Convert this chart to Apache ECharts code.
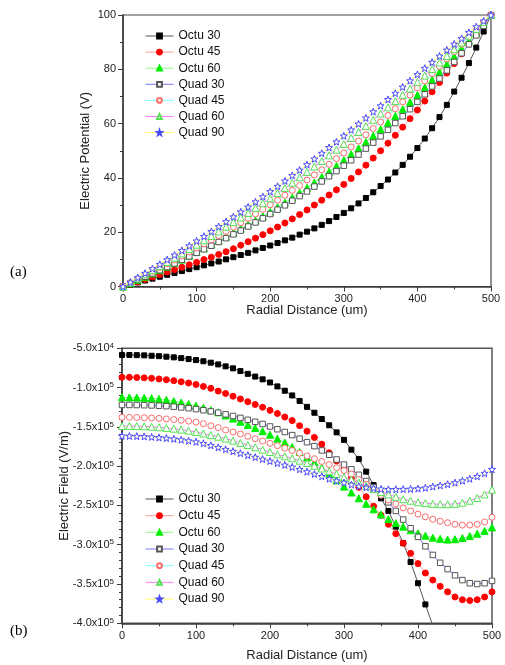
<!DOCTYPE html>
<html><head><meta charset="utf-8">
<script src="https://cdn.jsdelivr.net/npm/echarts@6/dist/echarts.min.js"></script>
<style>html,body{margin:0;padding:0;background:#fff}#c{width:505px;height:665px}</style>
</head><body><div id="c"></div>
<script>
// ---------- data ----------
const seriesNames = ['Octu 30','Octu 45','Octu 60','Quad 30','Quad 45','Quad 60','Quad 90'];
const radial = [0,10,20,30,40,50,60,70,80,90,100,110,120,130,140,150,160,170,180,190,200,210,220,230,240,250,260,270,280,290,300,310,320,330,340,350,360,370,380,390,400,410,420,430,440,450,460,470,480,490,500];
const xTicks = [0,100,200,300,400,500];
const potTicks = [0,20,40,60,80,100];
// Electric potential (V)
const potOctu30 = [0,0.7,1.5,2.2,2.9,3.6,4.3,5.0,5.7,6.4,7.1,7.8,8.5,9.2,10.0,10.8,11.6,12.4,13.3,14.2,15.1,16.0,17.0,18.0,19.1,20.2,21.4,22.7,24.1,25.6,27.1,28.8,30.6,32.6,34.7,37.0,39.4,42.0,44.8,47.8,51.0,54.5,58.3,62.4,66.9,71.8,76.9,82.3,88.0,93.9,100];
const potOctu45 = [0,0.9,1.7,2.6,3.5,4.4,5.3,6.2,7.1,8.0,8.9,9.9,10.8,11.8,12.8,13.9,15.2,16.5,17.8,19.1,20.5,21.9,23.4,24.9,26.5,28.2,30.0,31.8,33.7,35.6,37.6,39.8,42.2,44.7,47.3,50.0,52.8,55.7,58.7,61.8,65.0,68.3,71.7,75.1,78.6,82.1,85.7,89.3,92.8,96.4,100];
const potOctu60 = [0,1.2,2.4,3.6,4.8,6.0,7.3,8.6,9.9,11.3,12.7,14.1,15.5,16.9,18.3,19.8,21.3,22.8,24.3,25.9,27.5,29.2,30.9,32.7,34.5,36.4,38.3,40.3,42.3,44.4,46.5,48.7,50.9,53.2,55.5,57.9,60.3,62.8,65.3,67.9,70.5,73.3,76.1,79.0,81.9,84.8,87.7,90.6,93.5,96.6,100];
const potQuad30 = [0,1.2,2.4,3.6,4.8,6.0,7.2,8.5,9.8,11.1,12.4,13.7,15.0,16.4,17.8,19.2,20.6,22.1,23.6,25.1,26.7,28.3,29.9,31.6,33.3,35.0,36.8,38.7,40.6,42.5,44.5,46.5,48.6,50.8,53.0,55.3,57.7,60.2,62.7,65.3,68.0,70.8,73.7,76.6,79.6,82.7,85.9,89.2,92.5,96.0,100];
const potQuad45 = [0,1.4,2.8,4.2,5.6,7.0,8.4,9.8,11.2,12.7,14.2,15.7,17.2,18.7,20.3,21.9,23.5,25.1,26.7,28.4,30.1,31.8,33.6,35.4,37.2,39.2,41.1,43.0,45.0,47.1,49.2,51.4,53.6,55.9,58.2,60.6,63.0,65.5,68.0,70.5,73.1,75.7,78.4,81.1,83.8,86.5,89.2,92.0,94.7,97.4,100];
const potQuad60 = [0,1.5,3.0,4.5,6.0,7.5,9.0,10.6,12.2,13.8,15.4,17.0,18.6,20.3,22.0,23.7,25.4,27.1,28.9,30.7,32.5,34.4,36.3,38.2,40.2,42.2,44.2,46.2,48.3,50.4,52.5,54.7,56.9,59.1,61.4,63.7,66.0,68.3,70.6,72.9,75.3,77.7,80.1,82.5,84.9,87.4,89.9,92.4,94.9,97.4,100];
const potQuad90 = [0,1.6,3.3,4.9,6.6,8.2,9.9,11.6,13.3,15.0,16.8,18.5,20.3,22.1,23.9,25.7,27.5,29.3,31.2,33.1,35.0,36.9,38.9,40.9,42.9,44.9,47.0,49.1,51.2,53.3,55.5,57.7,59.9,62.1,64.4,66.6,68.9,71.2,73.5,75.8,78.1,80.4,82.6,84.9,87.1,89.3,91.4,93.6,95.7,97.8,100];
// Electric field, in units of 1e5 V/m
const efOctu30 = [-0.585,-0.585,-0.587,-0.59,-0.595,-0.60,-0.607,-0.615,-0.625,-0.637,-0.65,-0.665,-0.683,-0.705,-0.73,-0.755,-0.79,-0.825,-0.86,-0.895,-0.935,-0.985,-1.04,-1.10,-1.17,-1.245,-1.32,-1.40,-1.48,-1.57,-1.665,-1.79,-1.91,-2.07,-2.24,-2.41,-2.57,-2.77,-2.98,-3.22,-3.49,-3.76,-4.03];
const efOctu45 = [-0.869,-0.869,-0.872,-0.876,-0.882,-0.89,-0.90,-0.912,-0.926,-0.942,-0.96,-0.985,-1.01,-1.045,-1.075,-1.11,-1.145,-1.18,-1.215,-1.25,-1.29,-1.33,-1.375,-1.42,-1.485,-1.555,-1.635,-1.72,-1.83,-1.935,-2.04,-2.15,-2.27,-2.39,-2.51,-2.625,-2.74,-2.86,-2.98,-3.11,-3.24,-3.36,-3.45,-3.53,-3.60,-3.665,-3.70,-3.71,-3.70,-3.665,-3.60];
const efOctu60 = [-1.124,-1.125,-1.127,-1.13,-1.135,-1.145,-1.157,-1.172,-1.19,-1.21,-1.232,-1.257,-1.285,-1.315,-1.355,-1.395,-1.435,-1.475,-1.515,-1.555,-1.60,-1.65,-1.70,-1.755,-1.82,-1.89,-1.95,-2.02,-2.10,-2.18,-2.26,-2.335,-2.41,-2.48,-2.55,-2.615,-2.675,-2.725,-2.77,-2.815,-2.855,-2.885,-2.91,-2.925,-2.935,-2.93,-2.915,-2.89,-2.86,-2.825,-2.78];
const efQuad30 = [-1.221,-1.221,-1.222,-1.224,-1.227,-1.231,-1.236,-1.243,-1.252,-1.262,-1.274,-1.288,-1.303,-1.32,-1.34,-1.362,-1.386,-1.41,-1.436,-1.463,-1.495,-1.53,-1.565,-1.605,-1.65,-1.695,-1.745,-1.80,-1.855,-1.915,-1.98,-2.04,-2.11,-2.19,-2.27,-2.36,-2.46,-2.57,-2.68,-2.79,-2.90,-3.02,-3.13,-3.23,-3.31,-3.39,-3.45,-3.49,-3.50,-3.49,-3.46];
const efQuad45 = [-1.378,-1.378,-1.38,-1.383,-1.387,-1.392,-1.399,-1.407,-1.416,-1.427,-1.44,-1.46,-1.485,-1.51,-1.54,-1.565,-1.59,-1.62,-1.65,-1.68,-1.71,-1.74,-1.77,-1.80,-1.835,-1.87,-1.905,-1.94,-1.98,-2.02,-2.055,-2.10,-2.17,-2.23,-2.30,-2.37,-2.43,-2.48,-2.53,-2.57,-2.61,-2.645,-2.675,-2.70,-2.72,-2.74,-2.75,-2.75,-2.74,-2.71,-2.65];
const efQuad60 = [-1.489,-1.489,-1.49,-1.493,-1.498,-1.505,-1.513,-1.523,-1.535,-1.548,-1.565,-1.585,-1.605,-1.625,-1.65,-1.675,-1.705,-1.73,-1.76,-1.79,-1.82,-1.85,-1.875,-1.90,-1.93,-1.96,-1.995,-2.03,-2.065,-2.10,-2.14,-2.17,-2.21,-2.25,-2.29,-2.33,-2.36,-2.39,-2.42,-2.44,-2.46,-2.47,-2.48,-2.485,-2.485,-2.48,-2.465,-2.44,-2.405,-2.36,-2.30];
const efQuad90 = [-1.615,-1.616,-1.618,-1.622,-1.628,-1.635,-1.643,-1.652,-1.663,-1.676,-1.69,-1.71,-1.735,-1.76,-1.785,-1.81,-1.835,-1.86,-1.885,-1.91,-1.935,-1.96,-1.985,-2.01,-2.04,-2.07,-2.10,-2.13,-2.16,-2.185,-2.21,-2.235,-2.255,-2.27,-2.28,-2.29,-2.295,-2.295,-2.293,-2.29,-2.285,-2.275,-2.26,-2.245,-2.23,-2.21,-2.185,-2.16,-2.13,-2.09,-2.04];
// field tick labels (value in 1e5 V/m -> mantissa, exponent)
const fieldTicks = [-4.0,-3.5,-3.0,-2.5,-2.0,-1.5,-1.0,-0.5];
const fieldTickMant = ['-4.0','-3.5','-3.0','-2.5','-2.0','-1.5','-1.0','-5.0'];
const fieldTickExp = ['5','5','5','5','5','5','5','4'];

// ---------- styles ----------
const STAR = 'path://M0,-10L2.35,-3.24L9.51,-3.09L3.8,1.24L5.88,8.09L0,4.2L-5.88,8.09L-3.8,1.24L-9.51,-3.09L-2.35,-3.24Z';
const styles = [
  {symbol:'rect', size:5, fill:'#000000', stroke:'#000000', line:'#555555'},
  {symbol:'circle', size:6, fill:'#ff0000', stroke:'#ff0000', line:'#ff9a9a'},
  {symbol:'triangle', size:7, fill:'#00ee00', stroke:'#00ee00', line:'#88ff88'},
  {symbol:'rect', size:5.5, fill:'#ffffff', stroke:'#555555', line:'#7777ff'},
  {symbol:'circle', size:6, fill:'#ffffff', stroke:'#ff6a6a', line:'#77ffff'},
  {symbol:'triangle', size:7, fill:'#ffffff', stroke:'#55e055', line:'#ff77ff'},
  {symbol:STAR, size:7, fill:'#ffffff', stroke:'#4a4aff', line:'#ffff66'}
];
const potData = [potOctu30,potOctu45,potOctu60,potQuad30,potQuad45,potQuad60,potQuad90];
const efData = [efOctu30,efOctu45,efOctu60,efQuad30,efQuad45,efQuad60,efQuad90];

const FONT = 'Liberation Sans';
function mkSeries(arr, i, gi) {
  const s = styles[i];
  return {
    name: seriesNames[i], type:'line', xAxisIndex: gi, yAxisIndex: gi,
    data: arr.map((v, k) => [radial[k], v]),
    symbol: s.symbol, symbolSize: s.size, showAllSymbol: true,
    lineStyle: {color: s.line, width: 1},
    itemStyle: {color: s.fill, borderColor: s.stroke, borderWidth: 1},
    emphasis: {disabled: true}, clip: true, z: 2 + i
  };
}
const series = [];
potData.forEach((a, i) => series.push(mkSeries(a, i, 0)));
efData.forEach((a, i) => series.push(mkSeries(a, i, 1)));

const axisCommon = {
  axisLine: {show: true, onZero: false, lineStyle: {color: '#3a3a3a', width: 1.5}},
  axisTick: {show: true, inside: false, length: 5, lineStyle: {color: '#3a3a3a', width: 1}},
  minorTick: {show: true, splitNumber: 2, length: 3, lineStyle: {color: '#3a3a3a', width: 1}},
  splitLine: {show: false},
  axisLabel: {color: '#222', fontSize: 11, fontFamily: FONT, margin: 7},
  nameLocation: 'middle',
  nameMoveOverlap: false,
  nameTextStyle: {color: '#222', fontSize: 13, fontFamily: FONT}
};
function xAxis(gi, gap) {
  return Object.assign({}, axisCommon, {
    type: 'value', gridIndex: gi, min: 0, max: 500, interval: 100,
    name: 'Radial Distance (um)', nameGap: gap
  });
}
const legendCommon = {
  orient: 'vertical', left: 140, itemWidth: 28, itemHeight: 6,
  lineStyle: {width: 1},
  textStyle: {fontSize: 12, fontFamily: FONT, color: '#111', lineHeight: 12, padding: [0,0,0,0]},
  data: seriesNames, selectedMode: false
};

const option = {
  animation: false,
  backgroundColor: '#ffffff',
  grid: [
    {left: 123, right: 14, top: 15, bottom: 378.5, show: true, borderColor: '#444', borderWidth: 1.2},
    {left: 122, right: 13, top: 348.3, bottom: 41.7, show: true, borderColor: '#555', borderWidth: 1.5}
  ],
  xAxis: [xAxis(0, 17), xAxis(1, 26)],
  yAxis: [
    Object.assign({}, axisCommon, {
      type: 'value', gridIndex: 0, min: 0, max: 100, interval: 20,
      axisLabel: Object.assign({}, axisCommon.axisLabel, {formatter: v => String(potTicks[potTicks.indexOf(v)])}),
      name: 'Electric Potential (V)', nameGap: 31
    }),
    Object.assign({}, axisCommon, {
      type: 'value', gridIndex: 1, min: -4, max: -0.5, interval: 0.5,
      minorTick: {show: true, splitNumber: 5, length: 3, lineStyle: {color: '#3a3a3a', width: 1}},
      axisLabel: Object.assign({}, axisCommon.axisLabel, {
        margin: 8,
        formatter: v => {
          const i = fieldTicks.indexOf(Math.round(v * 10) / 10);
          return '{m|' + fieldTickMant[i] + 'x10}{e|' + fieldTickExp[i] + '}';
        },
        rich: {
          m: {fontSize: 11, fontFamily: FONT, color: '#222'},
          e: {fontSize: 8, fontFamily: FONT, color: '#222', verticalAlign: 'top', padding: [0,0,5,0]}
        }
      }),
      name: 'Electric Field (V/m)', nameGap: 51
    })
  ],
  legend: [
    Object.assign({}, legendCommon, {top: 25, itemGap: 4.1}),
    Object.assign({}, legendCommon, {top: 488, itemGap: 4.67})
  ],
  graphic: [
    {type: 'text', left: 10, top: 265, style: {text: '(a)', font: '15px "Liberation Serif"', fill: '#000'}},
    {type: 'text', left: 10, top: 624, style: {text: '(b)', font: '15px "Liberation Serif"', fill: '#000'}}
  ],
  series: series
};
const chart = echarts.init(document.getElementById('c'), null, {renderer: 'canvas'});
chart.setOption(option);
</script>
</body></html>
